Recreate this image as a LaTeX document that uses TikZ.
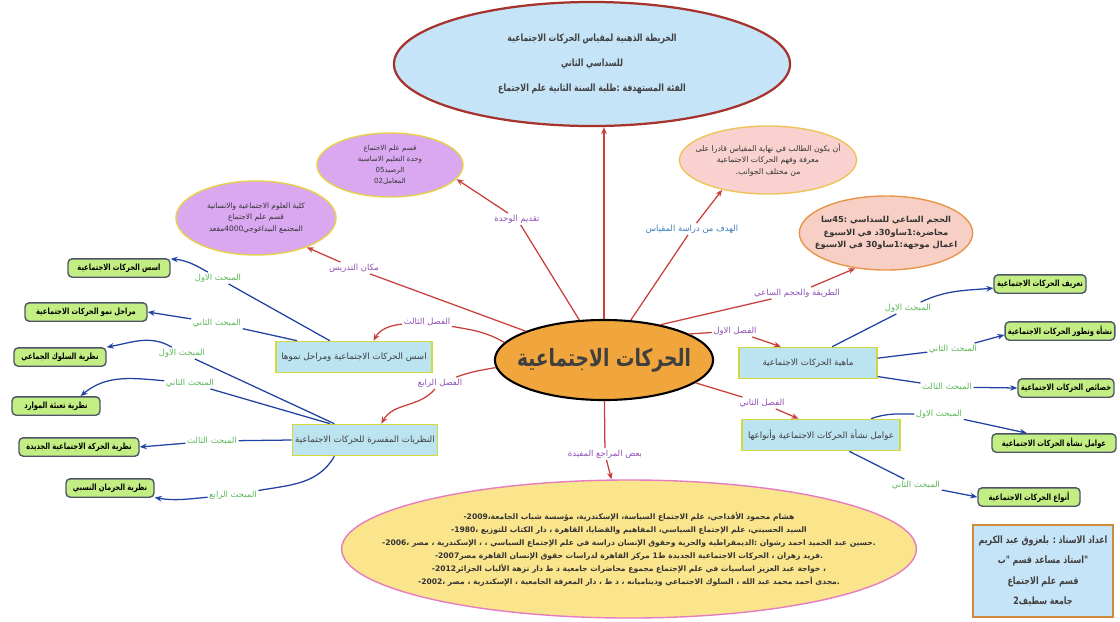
\documentclass[tikz,border=0pt]{standalone}
\usepackage{fontspec}
\setmainfont{DejaVu Sans}
\newfontfamily\arabicfont[Script=Arabic]{DejaVu Sans}
\newfontfamily\arabicnarrow[Script=Arabic, FakeStretch=0.78]{DejaVu Sans}
\TeXXeTstate=1
\usetikzlibrary{shapes, arrows.meta, positioning, calc}

\definecolor{skyfill}{HTML}{C6E4F7}
\definecolor{titleedge}{HTML}{A8322D}
\definecolor{hubfill}{HTML}{F0A63C}
\definecolor{lilac}{HTML}{D9A8F0}
\definecolor{lilacedge}{HTML}{E6D24A}
\definecolor{rosefill}{HTML}{F9D2CF}
\definecolor{roseedge}{HTML}{F0C35A}
\definecolor{peachfill}{HTML}{F8CFC5}
\definecolor{peachedge}{HTML}{E8954A}
\definecolor{reffill}{HTML}{FAE48C}
\definecolor{refedge}{HTML}{E57DC0}
\definecolor{chapfill}{HTML}{BCE3F0}
\definecolor{chapedge}{HTML}{D2D93A}
\definecolor{leaffill}{HTML}{C3EE84}
\definecolor{leafedge}{HTML}{4E5568}
\definecolor{linkred}{HTML}{C9403A}
\definecolor{linkblue}{HTML}{2141A3}
\definecolor{tagpurple}{HTML}{8E4FB5}
\definecolor{tagblue}{HTML}{3B7DBF}
\definecolor{taggreen}{HTML}{5DB65A}
\definecolor{inkgray}{HTML}{3F3F3F}
\definecolor{authoredge}{HTML}{CF8B3B}

\newcommand{\rl}[1]{\beginR#1\endR}
\newcommand{\lr}[1]{\beginL#1\endL{}}

\tikzset{
    hub/.style={ellipse, draw=black, line width=1.5pt, fill=hubfill, text=inkgray, inner xsep=-7pt, inner ysep=0pt, minimum width=5.45cm, minimum height=2cm, font={\arabicnarrow\bfseries\fontsize{17}{20}\selectfont}},
    titlecloud/.style={ellipse, draw=titleedge, line width=1.6pt, fill=skyfill, text=inkgray, align=center, inner sep=0pt, minimum width=9.9cm, minimum height=3.1cm, font={\arabicnarrow\bfseries\fontsize{7.1}{18}\selectfont}},
    infocloud/.style={ellipse, draw, line width=1pt, align=center, inner xsep=-7pt, inner ysep=0pt, text=black!80, font={\arabicfont\fontsize{5.3}{8}\selectfont}},
    chapter/.style={rectangle, draw=chapedge, line width=1pt, fill=chapfill, text=inkgray, minimum height=0.78cm, inner sep=2pt, font={\arabicfont\fontsize{6.2}{8}\selectfont}},
    leaf/.style={rectangle, rounded corners=3pt, draw=leafedge, line width=1pt, fill=leaffill, minimum height=0.46cm, inner sep=2pt, font={\arabicnarrow\bfseries\fontsize{6.1}{7}\selectfont}},
    branchtag/.style={inner sep=1pt, font={\arabicfont\fontsize{6}{7}\selectfont}},
    redtag/.style={branchtag, text=tagpurple},
    bluetag/.style={branchtag, text=tagblue},
    greentag/.style={branchtag, text=taggreen},
    redline/.style={draw=linkred, line width=0.9pt},
    redarrow/.style={redline, -{Stealth[length=5pt, width=4pt]}},
    blueline/.style={draw=linkblue, line width=0.9pt},
    bluearrow/.style={blueline, -{Stealth[length=5pt, width=4pt]}}
}

\begin{document}
\begin{tikzpicture}[x=0.025cm, y=-0.025cm]
\useasboundingbox (0,0) rectangle (1120,621);

% centre and clouds
\node[hub] (hub) at (604,360) {\rl{الحركات الاجتماعية}};
\node[titlecloud] (title) at (592,64) {\rl{الخريطة الذهنية لمقياس الحركات الاجتماعية}\\ \rl{للسداسي الثاني}\\ \rl{الفئة المستهدفة :طلبة السنة الثانية علم الاجتماع}};
\node[infocloud, draw=lilacedge, fill=lilac, minimum width=3.65cm, minimum height=1.6cm, font={\arabicfont\fontsize{5}{7.8}\selectfont}] (unit) at (390,165) {\rl{قسم علم الاجتماع}\\ \rl{وحدة التعليم الاساسية}\\ \rl{الرصيد\lr{05}}\\ \rl{المعامل\lr{02}}};
\node[infocloud, draw=lilacedge, fill=lilac, minimum width=4cm, minimum height=1.85cm] (place) at (256,218) {\rl{كلية العلوم الاجتماعية والانسانية}\\ \rl{قسم علم الاجتماع}\\ \rl{المجتمع البيداغوجي\lr{4000}مقعد}};
\node[infocloud, draw=roseedge, fill=rosefill, minimum width=4.3cm, minimum height=1.7cm, font={\arabicfont\fontsize{5.5}{8}\selectfont}] (goal) at (768,160) {\rl{أن يكون الطالب في نهاية المقياس قادرا على}\\ \rl{معرفة وفهم الحركات الاجتماعية}\\ \rl{من مختلف الجوانب.}};
\node[infocloud, draw=peachedge, fill=peachfill, minimum width=3.95cm, minimum height=1.85cm, font={\arabicfont\bfseries\fontsize{5.9}{9}\selectfont}] (hours) at (886,233) {\rl{الحجم الساعي للسداسي :\lr{45}سا}\\ \rl{محاضرة:\lr{1}ساو\lr{30}د في الاسبوع}\\ \rl{اعمال موجهة:\lr{1}ساو\lr{30} في الاسبوع}};
\node[infocloud, draw=refedge, fill=reffill, inner xsep=-31pt, minimum width=14.2cm, minimum height=3.45cm, font={\arabicfont\bfseries\fontsize{5.4}{9.2}\selectfont}] (refs) at (629,549) {%
\rl{هشام محمود الأقداحي، علم الاجتماع السياسة، الإسكندرية، مؤسسة شباب الجامعة،\lr{2009}-}\\
\rl{السيد الحسيني، علم الإجتماع السياسي، المفاهيم والقضايا، القاهرة ، دار الكتاب للتوزيع ،\lr{1980}-}\\
\rl{.حسين عبد الحميد احمد رشوان :الديمقراطية والحرية وحقوق الإنسان دراسة في علم الإجتماع السياسي ، ، الإسكندرية ، مصر ،\lr{2006}-}\\
\rl{.فريد زهران ، الحركات الاجتماعية الجديدة ط\lr{1} مركز القاهرة لدراسات حقوق الإنسان القاهرة مصر\lr{2007}-}\\
\rl{، خواجة عبد العزيز اساسيات في علم الإجتماع مجموع محاضرات جامعية د ط دار نزهة الألباب الجزائر\lr{2012}-}\\
\rl{.مجدى أحمد محمد عبد الله ، السلوك الاجتماعي وديناميانه ، د ط ، دار المعرفة الجامعية ، الإسكندرية ، مصر ،\lr{2002}-}};
\node[rectangle, draw=authoredge, line width=1.4pt, fill=skyfill, text=inkgray, align=center, minimum width=3.5cm, minimum height=2.3cm, inner sep=1pt, font={\arabicnarrow\bfseries\fontsize{7.2}{14.5}\selectfont}] (author) at (1043,571) {\rl{اعداد الاستاذ : بلعزوق عبد الكريم}\\ \rl{"استاذ مساعد قسم "ب}\\ \rl{قسم علم الاجتماع}\\ \rl{جامعة سطيف\lr{2}}};

% chapters
\node[chapter, minimum width=3.9cm] (roots) at (354,357) {\rl{اسس الحركات الاجتماعية ومراحل نموها}};
\node[chapter, minimum width=3.6cm] (theories) at (365,440) {\rl{النظريات المفسرة للحركات الاجتماعية}};
\node[chapter, minimum width=3.45cm] (nature) at (808,363) {\rl{ماهية الحركات الاجتماعية}};
\node[chapter, minimum width=3.95cm] (factors) at (821,435) {\rl{عوامل نشأة الحركات الاجتماعية وأنواعها}};

% sections
\node[leaf, minimum width=2.55cm] (basics) at (119,268) {\rl{اسس الحركات الاجتماعية}};
\node[leaf, minimum width=3.05cm] (stages) at (86,312) {\rl{مراحل نمو الحركات الاجتماعية}};
\node[leaf, minimum width=2.3cm] (crowd) at (60,357) {\rl{نظرية السلوك الجماعي}};
\node[leaf, minimum width=2.2cm] (resources) at (56,406) {\rl{نظرية تعبئة الموارد}};
\node[leaf, minimum width=3cm] (newmove) at (79,447) {\rl{نظرية الحركة الاجتماعية الجديدة}};
\node[leaf, minimum width=2.2cm] (deprivation) at (110,488) {\rl{نظرية الحرمان النسبي}};
\node[leaf, minimum width=2.3cm] (define) at (1040,284) {\rl{تعريف الحركات الاجتماعية}};
\node[leaf, minimum width=2.7cm] (origin) at (1060,331) {\rl{نشأة وتطور الحركات الاجتماعية}};
\node[leaf, minimum width=2.4cm] (traits) at (1066,388) {\rl{خصائص الحركات الاجتماعية}};
\node[leaf, minimum width=3.1cm] (causes) at (1054,443) {\rl{عوامل نشأة الحركات الاجتماعية}};
\node[leaf, minimum width=2.55cm] (types) at (1029,497) {\rl{أنواع الحركات الاجتماعية}};

% labels on the red links
\node[redtag] (tUnit) at (517,219) {\rl{تقديم الوحدة}};
\node[redtag] (tPlace) at (354,268) {\rl{مكان التدريس}};
\node[bluetag] (tGoal) at (692,229) {\rl{الهدف من دراسة المقياس}};
\node[redtag] (tHours) at (797,293) {\rl{الطريقة والحجم الساعي}};
\node[redtag] (tCh1) at (735,331) {\rl{الفصل الاول}};
\node[redtag] (tCh2) at (762,403) {\rl{الفصل الثاني}};
\node[redtag] (tCh3) at (427,322) {\rl{الفصل الثالث}};
\node[redtag] (tCh4) at (440,383) {\rl{الفصل الرابع}};
\node[redtag] (tRefs) at (605,454) {\rl{بعض المراجع المفيدة}};

% labels on the blue links
\node[greentag] (g1) at (218,278) {\rl{المبحث الاول}};
\node[greentag] (g2) at (217,323) {\rl{المبحث الثاني}};
\node[greentag] (g3) at (182,353) {\rl{المبحث الاول}};
\node[greentag] (g4) at (190,383) {\rl{المبحث الثاني}};
\node[greentag] (g5) at (212,441) {\rl{المبحث الثالث}};
\node[greentag] (g6) at (233,495) {\rl{المبحث الرابع}};
\node[greentag] (g7) at (908,308) {\rl{المبحث الاول}};
\node[greentag] (g8) at (953,349) {\rl{المبحث الثاني}};
\node[greentag] (g9) at (947,387) {\rl{المبحث الثالث}};
\node[greentag] (g10) at (939,414) {\rl{المبحث الاول}};
\node[greentag] (g11) at (916,485) {\rl{المبحث الثاني}};

% red links
\draw[redarrow] (hub) -- (hub |- title.south);
\draw[redline] (hub) -- (tUnit);
\draw[redarrow] (tUnit) -- (unit.-12);
\draw[redline] (hub) -- (tPlace);
\draw[redarrow] (tPlace) -- (place.-30);
\draw[redline] (hub) -- (tGoal);
\draw[redarrow] (tGoal) -- (goal.-147);
\draw[redline] (hub.32) -- (tHours);
\draw[redarrow] (tHours) -- (hours.-131);
\draw[redline] (hub.17) -- (tCh1);
\draw[redarrow] (tCh1) -- (nature.149);
\draw[redline] (hub.-14) -- (tCh2);
\draw[redarrow] (tCh2) -- (factors.144);
\draw[redline] (hub.170) to[out=150, in=-10] (tCh3);
\draw[redarrow] (tCh3) to[out=185, in=60] (roots.40);
\draw[redline] (hub.184) to[out=190, in=20] (tCh4);
\draw[redarrow] (tCh4) to[out=-130, in=60] (theories.45);
\draw[redline] (hub) -- (tRefs);
\draw[redarrow] (tRefs) -- (refs);

% blue links
\draw[blueline] (roots.146) -- (g1);
\draw[bluearrow] (g1) to[out=150, in=-5] (basics.10);
\draw[blueline] (roots.164) -- (g2);
\draw[bluearrow] (g2) -- (stages.east);
\draw[blueline] (theories.152) -- (g3);
\draw[bluearrow] (g3) to[out=150, in=10] (crowd.north east);
\draw[blueline] (theories.155) -- (g4);
\draw[bluearrow] (g4) to[out=175, in=40] (resources.22);
\draw[blueline] (theories.west) -- (g5);
\draw[bluearrow] (g5) -- (newmove.east);
\draw[blueline] (theories.-152) to[out=-120, in=10] (g6);
\draw[bluearrow] (g6) to[out=185, in=-10] (deprivation.-12);
\draw[blueline] (nature.34) -- (g7);
\draw[bluearrow] (g7) to[out=25, in=185] (define.-175);
\draw[blueline] (nature.4) -- (g8);
\draw[bluearrow] (g8) -- (origin.-176);
\draw[blueline] (nature.-11) -- (g9);
\draw[bluearrow] (g9) -- (traits.west);
\draw[blueline] (factors.18) to[out=20, in=180] (g10);
\draw[bluearrow] (g10) -- (causes.160);
\draw[blueline] (factors.-30) -- (g11);
\draw[bluearrow] (g11) -- (types.west);
\end{tikzpicture}
\end{document}
